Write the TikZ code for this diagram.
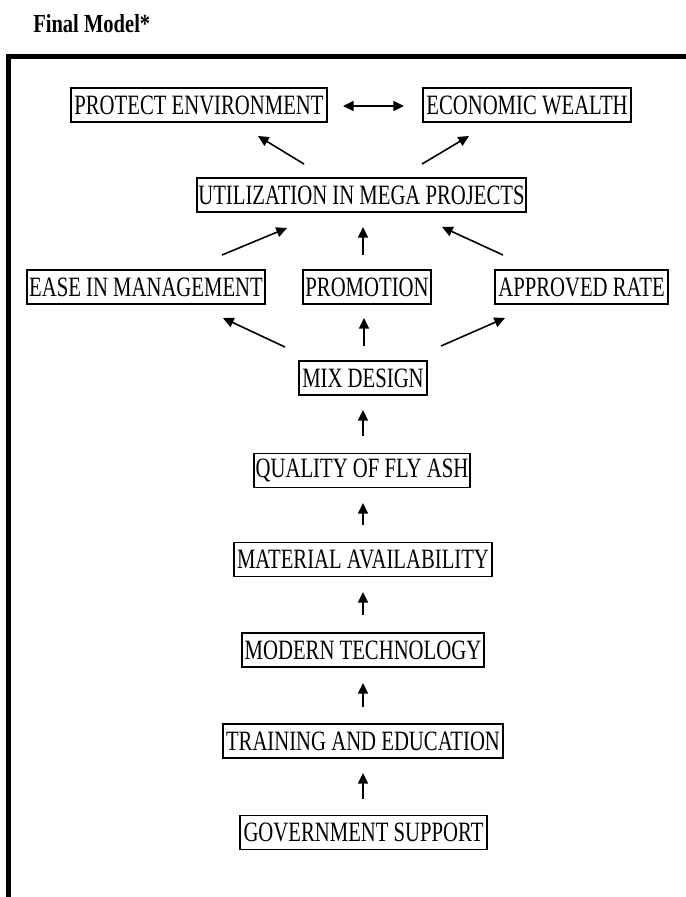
\documentclass[tikz,border=0pt]{standalone}
\usepackage{fontspec}
\setmainfont[FakeStretch=0.74]{Liberation Serif}
\newfontfamily\titlefont[FakeStretch=0.79]{Liberation Serif}
\usetikzlibrary{arrows.meta}
\begin{document}
\begin{tikzpicture}[x=0.75pt,y=-0.75pt,
  box/.style={draw, line width=0.9pt, inner sep=0pt, minimum height=25.5pt,
    font=\fontsize{21}{24}\selectfont},
  arr/.style={line width=1.2pt, -{Triangle[length=8pt,width=7.5pt]}},
  darr/.style={line width=1.2pt, {Triangle[length=8pt,width=7.5pt]}-{Triangle[length=8pt,width=7.5pt]}}]
\useasboundingbox (0,0) rectangle (686,897);
\fill[white] (0,0) rectangle (686,897);
% title
\node[anchor=base west, inner sep=0pt, font=\titlefont\bfseries\fontsize{19.5}{22}\selectfont] (title) at (33,32) {Final Model*};
% frame
\draw[line width=4.2pt, line join=miter] (8.5,900) -- (8.5,56.5) -- (690,56.5);
% nodes
\node[box, minimum width=192pt] (env) at (199,105) {PROTECT ENVIRONMENT};
\node[box, minimum width=156pt] (eco) at (527,105) {ECONOMIC WEALTH};
\node[box, minimum width=246.75pt] (util) at (361.5,195) {UTILIZATION IN MEGA PROJECTS};
\node[box, minimum width=178.5pt] (ease) at (146,287) {EASE IN MANAGEMENT};
\node[box, minimum width=96pt] (promo) at (367,287) {PROMOTION};
\node[box, minimum width=129.75pt] (rate) at (581.5,287) {APPROVED RATE};
\node[box, minimum width=96pt] (mix) at (363,378) {MIX DESIGN};
\node[box, minimum width=162pt] (qual) at (362,470.5) {QUALITY OF FLY ASH};
\node[box, minimum width=193.5pt] (mat) at (363,559.5) {MATERIAL AVAILABILITY};
\node[box, minimum width=181.5pt] (tech) at (363,650) {MODERN TECHNOLOGY};
\node[box, minimum width=210pt] (train) at (363,741) {TRAINING AND EDUCATION};
\node[box, minimum width=185.25pt] (gov) at (363.5,832.5) {GOVERNMENT SUPPORT};
% arrow end points
\coordinate (d1) at (343,106); \coordinate (d2) at (404,106);
\coordinate (u1s) at (304,164); \coordinate (u1e) at (258,136);
\coordinate (u2s) at (422,164); \coordinate (u2e) at (469,136);
\coordinate (a1s) at (222,255); \coordinate (a1e) at (287,228);
\coordinate (a2s) at (363,255); \coordinate (a2e) at (363,227);
\coordinate (a3s) at (503,255); \coordinate (a3e) at (442,227);
\coordinate (b1s) at (285,347); \coordinate (b1e) at (223,318);
\coordinate (b2s) at (364,346); \coordinate (b2e) at (364,318);
\coordinate (b3s) at (441,346); \coordinate (b3e) at (505,318);
\coordinate (c1s) at (363,436); \coordinate (c1e) at (363,410);
\coordinate (c2s) at (363,525); \coordinate (c2e) at (363,503);
\coordinate (c3s) at (363,615); \coordinate (c3e) at (363,592);
\coordinate (c4s) at (363,707); \coordinate (c4e) at (363,683);
\coordinate (c5s) at (363,799); \coordinate (c5e) at (363,773);
% connectors
\draw[darr] (d1) -- (d2);
\draw[arr] (u1s) -- (u1e);
\draw[arr] (u2s) -- (u2e);
\draw[arr] (a1s) -- (a1e);
\draw[arr] (a2s) -- (a2e);
\draw[arr] (a3s) -- (a3e);
\draw[arr] (b1s) -- (b1e);
\draw[arr] (b2s) -- (b2e);
\draw[arr] (b3s) -- (b3e);
\draw[arr] (c1s) -- (c1e);
\draw[arr] (c2s) -- (c2e);
\draw[arr] (c3s) -- (c3e);
\draw[arr] (c4s) -- (c4e);
\draw[arr] (c5s) -- (c5e);
\end{tikzpicture}
\end{document}
